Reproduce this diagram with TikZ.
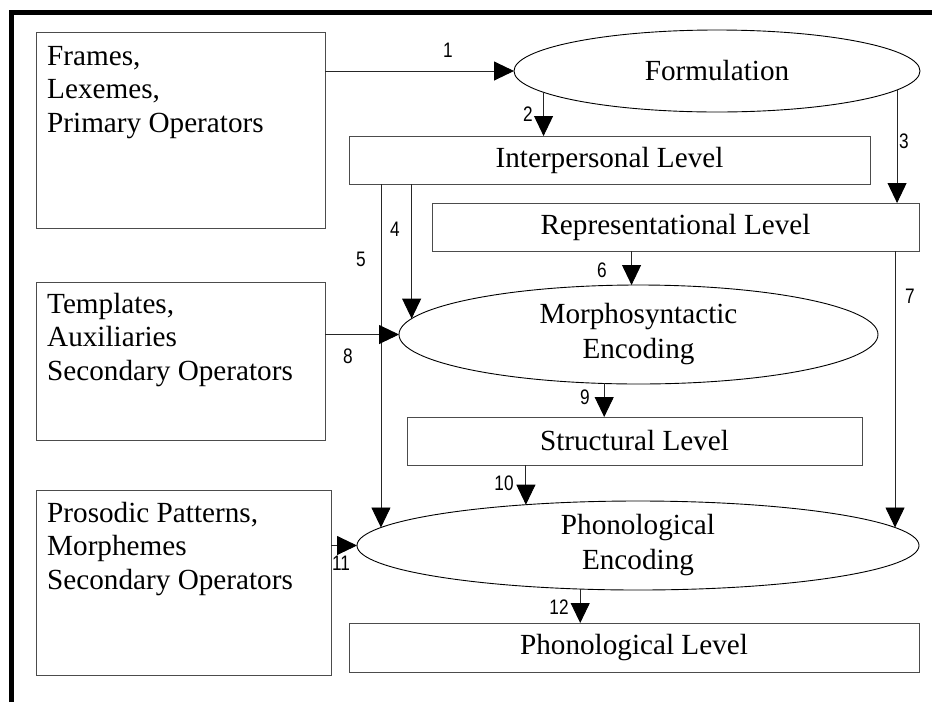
\documentclass[tikz,border=0pt]{standalone}
\usepackage{fontspec}
\setmainfont{Liberation Serif}
\newfontfamily\numfont[FakeStretch=0.82]{Liberation Sans}
\usetikzlibrary{arrows.meta,shapes.geometric,calc}
\newcommand{\lines}[1]{\vtop{\baselineskip=33.5pt #1}}
\begin{document}
\begin{tikzpicture}[x=1pt,y=-1pt,
  box/.style={draw=black!70, line width=1pt, rectangle, inner sep=0pt, outer sep=0pt, font=\fontsize{29.2}{33.5}\selectfont},
  oval/.style={draw=black, line width=0.9pt, ellipse, inner sep=0pt, outer sep=0pt, align=center, font=\fontsize{29.2}{35}\selectfont},
  srctext/.style={anchor=base west, inner sep=0pt, font=\fontsize{29.2}{33.5}\selectfont},
  lab/.style={font=\numfont\fontsize{21}{22}\selectfont, inner sep=0pt},
  arr/.style={draw=black!85, line width=0.9pt, -{Triangle[length=20pt,width=19pt,fill=black,color=black]}},
]
\useasboundingbox (0,0) rectangle (932,702);
% frame
\draw[line width=5pt] (11.5,702) -- (11.5,12.5) -- (932,12.5);

% source boxes
\node[box, minimum width=289pt, minimum height=196pt] (src1) at (180.5,130) {};
\node[box, minimum width=289pt, minimum height=158pt] (src2) at (180.5,361) {};
\node[box, minimum width=295pt, minimum height=185pt] (src3) at (183.5,582.5) {};
\node[srctext] (t1) at ($(src1.north west)+(11,33)$) {\lines{\hbox{Frames,}\hbox{Lexemes,}\hbox{Primary Operators}}};
\node[srctext] (t2) at ($(src2.north west)+(11,31)$) {\lines{\hbox{Templates,}\hbox{Auxiliaries}\hbox{Secondary Operators}}};
\node[srctext] (t3) at ($(src3.north west)+(11,32)$) {\lines{\hbox{Prosodic Patterns,}\hbox{Morphemes}\hbox{Secondary Operators}}};

% main nodes
\node[oval, minimum width=406pt, minimum height=82pt] (form) at (717,71) {Formulation};
\node[box, minimum width=521pt, minimum height=48pt] (ip) at (609.5,160) {Interpersonal Level};
\node[box, minimum width=487pt, minimum height=48pt] (rep) at (675.5,227) {Representational Level};
\node[oval, minimum width=479pt, minimum height=99pt] (morph) at (638.5,334.5) {Morphosyntactic\\Encoding};
\node[box, minimum width=455pt, minimum height=48pt] (struct) at (634.5,441) {Structural Level};
\node[oval, minimum width=562pt, minimum height=89pt] (phon) at (638,545.5) {Phonological\\Encoding};
\node[box, minimum width=570pt, minimum height=49pt] (pl) at (634,647.5) {Phonological Level};

% connectors
\draw[arr] (src1.east |- form.west) -- (form.west);
\draw[arr] (form.187.65) -- (form.187.65 |- ip.north);
\draw[arr] (form.-6.45) -- (form.-6.45 |- rep.north);
\draw[arr] (morph.176.86 |- ip.south) -- (morph.176.86);
\draw[arr] (phon.176.7 |- ip.south) -- (phon.176.7);
\draw[arr] (morph.98.6 |- rep.south) -- (morph.98.6);
\draw[arr] (phon.4.09 |- rep.south) -- (phon.4.09);
\draw[arr] (src2.east |- morph.west) -- (morph.west);
\draw[arr] (morph.235.6) -- (morph.235.6 |- struct.north);
\draw[arr] (phon.160.35 |- struct.south) -- (phon.160.35);
\draw[arr] (src3.east |- phon.west) -- (phon.west);
\draw[arr] (phon.217.4) -- (phon.217.4 |- pl.north);

% labels
\node[lab] (l1) at (448,50) {1};
\node[lab] (l2) at (528,114) {2};
\node[lab] (l3) at (904,141) {3};
\node[lab] (l4) at (395,229) {4};
\node[lab] (l5) at (361,259) {5};
\node[lab] (l6) at (602,270) {6};
\node[lab] (l7) at (910,296) {7};
\node[lab] (l8) at (348,356) {8};
\node[lab] (l9) at (585,397) {9};
\node[lab] (l10) at (504,483) {10};
\node[lab] (l11) at (341,563) {11};
\node[lab] (l12) at (559,607) {12};
\end{tikzpicture}
\end{document}
